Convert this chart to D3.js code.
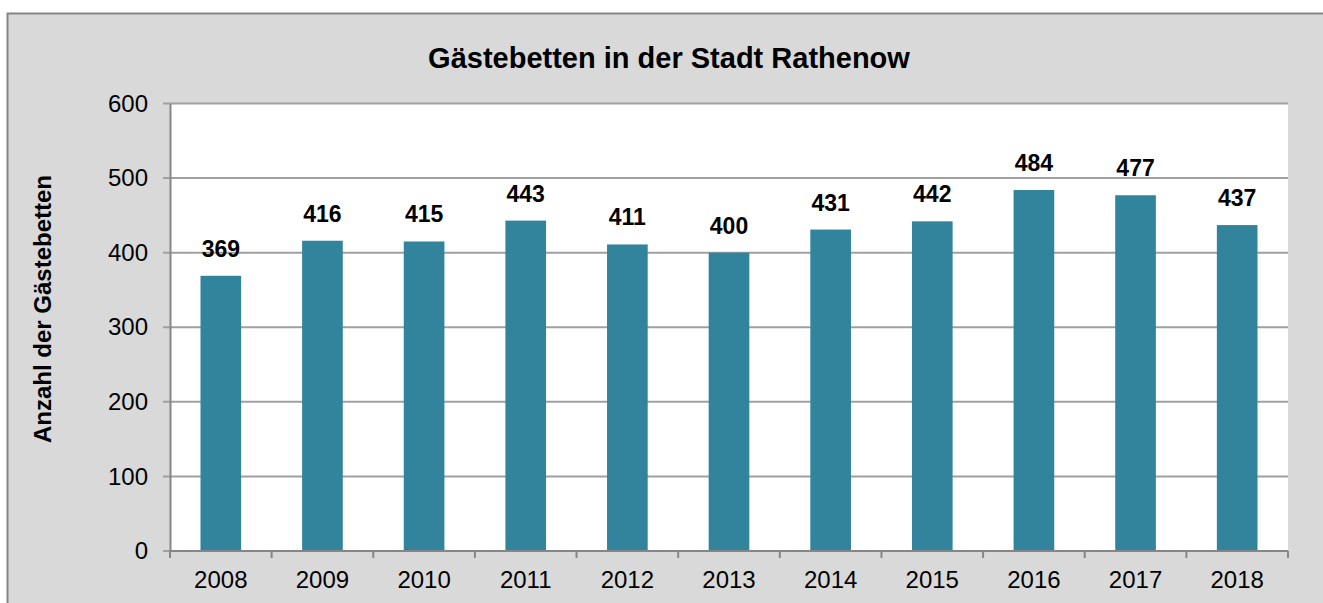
<!DOCTYPE html>
<html>
<head>
<meta charset="utf-8">
<script src="https://d3js.org/d3.v7.min.js"></script>
<style>
  body { margin: 0; background: #fff; }
  text { font-family: "Liberation Sans", Arial, sans-serif; }
</style>
</head>
<body>
<svg id="chart"></svg>
<script>
// data
var years = ["2008", "2009", "2010", "2011", "2012", "2013", "2014", "2015", "2016", "2017", "2018"];
var beds = [369, 416, 415, 443, 411, 400, 431, 442, 484, 477, 437];
var yTicks = [0, 100, 200, 300, 400, 500, 600];

var width = 1323, height = 603;
var margin = {top: 103.5, left: 170, right: 35, bottom: 52};

var svg = d3.select("#chart")
            .attr("width", width)
            .attr("height", height);

// chart area background
svg.append("rect")
   .attr("x", 7.5).attr("y", 13.5)
   .attr("width", width).attr("height", height)
   .attr("fill", "#d9d9d9")
   .attr("stroke", "#868686")
   .attr("stroke-width", 2);

var plotW = width - margin.left - margin.right;
var plotH = height - margin.top - margin.bottom;

var g = svg.append("g")
           .attr("transform", "translate(" + margin.left + "," + margin.top + ")");

g.append("rect")
 .attr("width", plotW).attr("height", plotH)
 .attr("fill", "#fff");

//scales
var x = d3.scaleBand()
          .domain(years)
          .range([0, plotW])
          .paddingInner(0.6)
          .paddingOuter(0.3);

var y = d3.scaleLinear()
          .domain([0, 600])
          .range([plotH, 0]);

// gridlines
g.selectAll(".grid")
 .data(yTicks)
 .enter()
 .append("line")
 .attr("x1", -7).attr("x2", plotW)
 .attr("y1", function(d){return y(d)})
 .attr("y2", function(d){return y(d)})
 .attr("stroke", "#a0a0a0")
 .attr("stroke-width", 2);

// bars
g.selectAll(".bar")
 .data(beds)
 .enter()
 .append("rect")
 .attr("x", function(d, i){return x(years[i])})
 .attr("y", function(d){return y(d)})
 .attr("width", x.bandwidth())
 .attr("height", function(d){return plotH - y(d)})
 .attr("fill", "#31849b");

// value labels
g.selectAll(".val")
 .data(beds)
 .enter()
 .append("text")
 .attr("x", function(d, i){return x(years[i]) + x.bandwidth() / 2})
 .attr("y", function(d){return y(d) - 19})
 .attr("text-anchor", "middle")
 .attr("font-size", 23)
 .attr("font-weight", "bold")
 .text(function(d){return d});

// y axis
var yAxis = g.append("g")
             .call(d3.axisLeft(y).tickValues(yTicks).tickSize(0).tickPadding(22));
yAxis.select(".domain").attr("stroke", "#868686").attr("stroke-width", 2);
yAxis.selectAll("text").attr("font-size", 24).attr("fill", "#000")
     .style("font-family", "Liberation Sans, Arial, sans-serif");

// x axis with ticks between categories
var step = x.step();
var xAxis = g.append("g")
             .attr("transform", "translate(0," + plotH + ")");
xAxis.append("line")
     .attr("x1", 0).attr("x2", plotW)
     .attr("stroke", "#868686").attr("stroke-width", 2);
xAxis.selectAll(".tick")
     .data(d3.range(years.length + 1))
     .enter()
     .append("line")
     .attr("x1", function(i){return i * step}).attr("x2", function(i){return i * step})
     .attr("y1", 0).attr("y2", 7)
     .attr("stroke", "#868686").attr("stroke-width", 2);
xAxis.selectAll(".lbl")
     .data(years)
     .enter()
     .append("text")
     .attr("x", function(d){return x(d) + x.bandwidth() / 2})
     .attr("y", 37)
     .attr("text-anchor", "middle")
     .attr("font-size", 24)
     .text(function(d){return d});

// title
svg.append("text")
   .attr("x", 669).attr("y", 68)
   .attr("text-anchor", "middle")
   .attr("font-size", 29)
   .attr("font-weight", "bold")
   .text("Gästebetten in der Stadt Rathenow");

// y axis title
svg.append("text")
   .attr("transform", "translate(51,309) rotate(-90)")
   .attr("text-anchor", "middle")
   .attr("font-size", 24)
   .attr("font-weight", "bold")
   .text("Anzahl der Gästebetten");
</script>
</body>
</html>
